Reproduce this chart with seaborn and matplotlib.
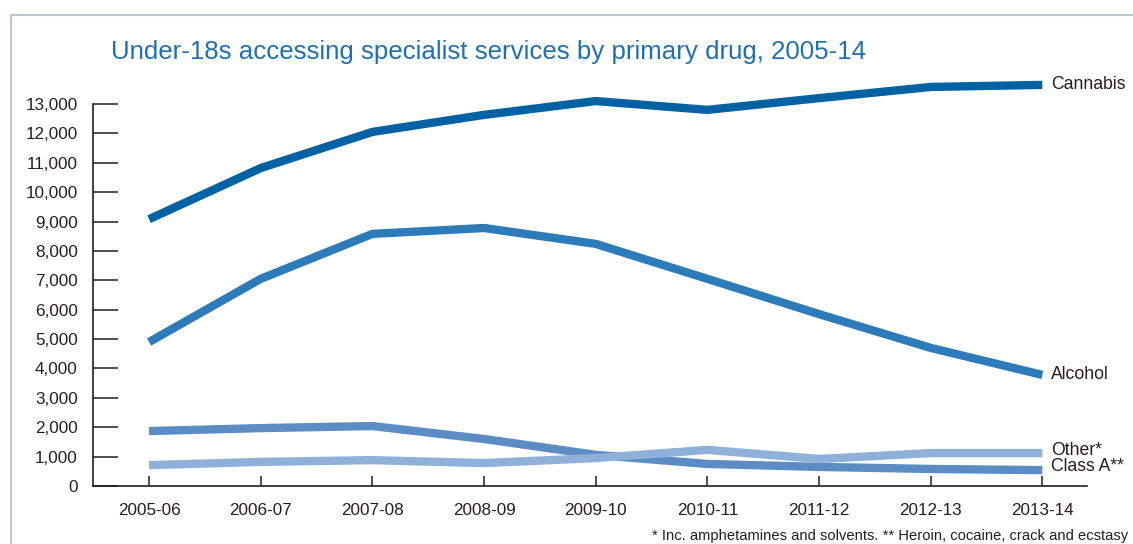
import pandas as pd
import numpy as np
import matplotlib.pyplot as plt
import seaborn as sns
from matplotlib.lines import Line2D

# Chart values
years = ['2005-06', '2006-07', '2007-08', '2008-09', '2009-10',
         '2010-11', '2011-12', '2012-13', '2013-14']
cannabis = [9080, 10820, 12050, 12630, 13100, 12800, 13200, 13580, 13650]
alcohol = [4900, 7050, 8580, 8780, 8240, 7050, 5850, 4700, 3780]
class_a = [1870, 1970, 2040, 1600, 1060, 750, 650, 580, 540]
other = [710, 820, 880, 780, 950, 1230, 920, 1120, 1120]
series_names = ['Cannabis', 'Alcohol', 'Class A**', 'Other*']
colors = ['#0061a3', '#2d7bb9', '#5b8dc4', '#8fb0d9']

df = pd.DataFrame({
    'year': years * 4,
    'value': cannabis + alcohol + class_a + other,
    'drug': np.repeat(series_names, len(years)),
})

sns.set_style('white')
plt.rcParams['font.family'] = ['Liberation Sans', 'DejaVu Sans']

fig = plt.figure(figsize=(11.33, 5.44), dpi=100)
ax = fig.add_axes([93 / 1133, 1 - 486 / 544, (1087 - 93) / 1133, (486 - 104) / 544])

sns.lineplot(data=df, x='year', y='value', hue='drug', palette=colors,
             hue_order=series_names, linewidth=6, sort=False, legend=False,
             ax=ax)
for line in ax.lines:
    line.set_solid_capstyle('butt')
    line.set_clip_on(False)

ax.set_xlim(-0.502, 8.40)
ax.set_ylim(0, 13000)
ax.set_yticks(np.arange(0, 13001, 1000))
ax.set_yticklabels(['0'] + [f'{v:,}' for v in range(1000, 13001, 1000)])
ax.set_xticks(range(len(years)))
ax.set_xticklabels(years)
ax.set_xlabel('')
ax.set_ylabel('')

for s in ['top', 'right']:
    ax.spines[s].set_visible(False)
for s in ['left', 'bottom']:
    ax.spines[s].set_color('#231f20')
    ax.spines[s].set_linewidth(1.2)

ax.tick_params(axis='y', direction='in', length=18, width=1.1, color='#231f20',
               pad=11, labelsize=12.3, labelcolor='#231f20', left=True)
ax.tick_params(axis='x', direction='in', length=7, width=1.1, color='#231f20',
               pad=12, labelsize=12.3, labelcolor='#231f20', bottom=True)

# end labels
ends = [cannabis[-1], alcohol[-1], class_a[-1] + 110, other[-1] + 100]
for name, y in zip(series_names, ends):
    ax.annotate(name, xy=(8, y), xytext=(6, 0), textcoords='offset points',
                va='center', ha='left', fontsize=12.7, color='#231f20',
                annotation_clip=False)

fig.text(111 / 1133, 1 - 52 / 544, 'Under-18s accessing specialist services by primary drug, 2005-14',
         fontsize=18.6, color='#1f6fb3', va='center', ha='left')
fig.text(1128 / 1133, 1 / 544,
         '* Inc. amphetamines and solvents. ** Heroin, cocaine, crack and ecstasy',
         fontsize=10.6, color='#231f20', va='bottom', ha='right')

# light frame around the chart
frame_col = '#b9c8d3'
fig.add_artist(Line2D([11 / 1133, 11 / 1133], [0, 1 - 15 / 544], color=frame_col, lw=1.5))
fig.add_artist(Line2D([11 / 1133, 1], [1 - 15 / 544, 1 - 15 / 544], color=frame_col, lw=1.5))

plt.savefig('out.png', dpi=100)
